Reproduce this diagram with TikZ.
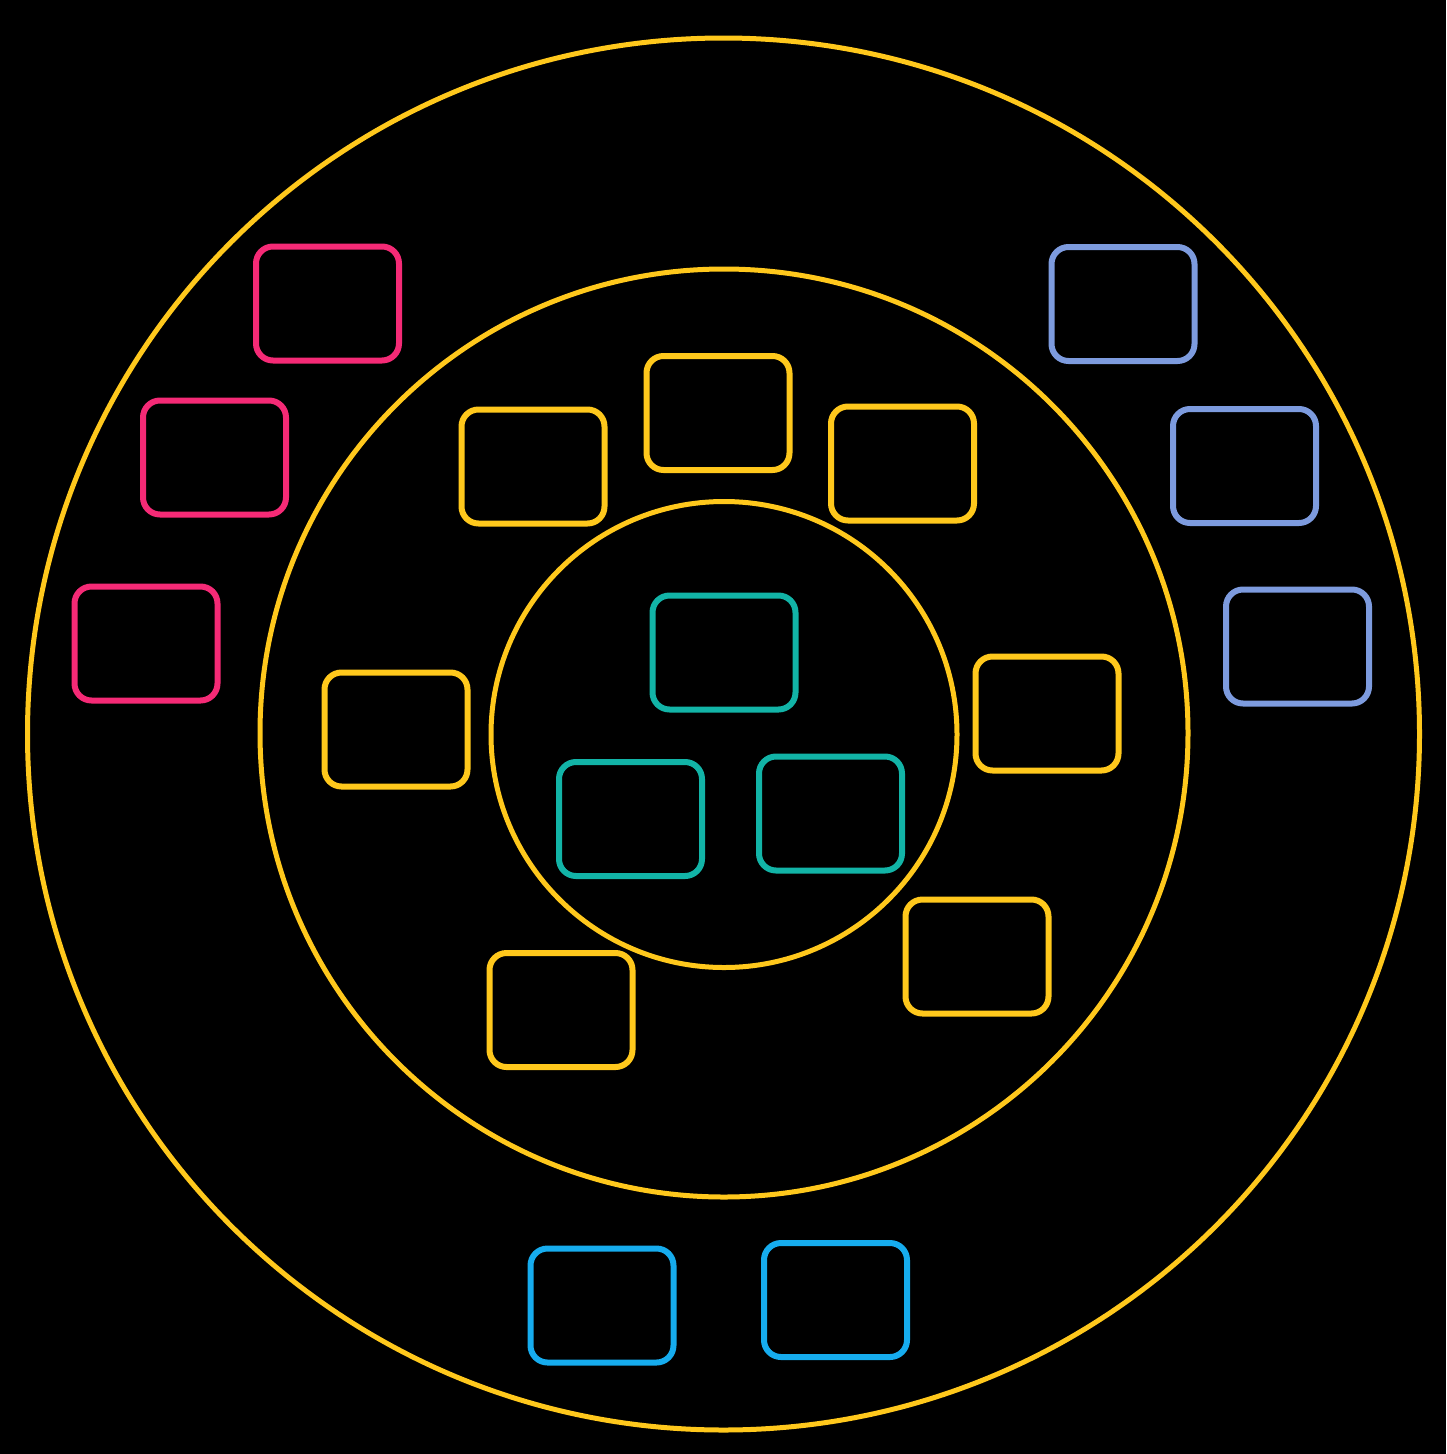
\documentclass[tikz,border=0pt]{standalone}
\definecolor{ringyellow}{HTML}{FFC81C}
\definecolor{boxpink}{HTML}{F52A76}
\definecolor{boxlav}{HTML}{7D9BDE}
\definecolor{boxblue}{HTML}{16ACEE}
\definecolor{boxteal}{HTML}{12B4A7}
\tikzset{
  ring/.style={draw=ringyellow, line width=5pt},
  card/.style={rectangle, rounded corners=17pt, line width=6pt, minimum width=143pt, minimum height=114pt, inner sep=0pt},
  pinkcard/.style={card, draw=boxpink},
  lavcard/.style={card, draw=boxlav},
  bluecard/.style={card, draw=boxblue},
  tealcard/.style={card, draw=boxteal},
  yelcard/.style={card, draw=ringyellow},
}
\begin{document}
\begin{tikzpicture}[x=1pt,y=-1pt]
\fill[black] (0,0) rectangle (1446,1454);
\useasboundingbox (0,0) rectangle (1446,1454);
% rings
\node[ring, circle, minimum size=1392pt, inner sep=0pt] (outer) at (723.5,734) {};
\node[ring, circle, minimum size=928pt, inner sep=0pt] (middle) at (724,733) {};
\node[ring, circle, minimum size=466pt, inner sep=0pt] (inner) at (724,734.5) {};
% pink
\node[pinkcard] (p1) at (327.5,303.5) {};
\node[pinkcard] (p2) at (214.5,457.5) {};
\node[pinkcard] (p3) at (146,643.5) {};
% lavender
\node[lavcard] (l1) at (1123,304) {};
\node[lavcard] (l2) at (1244.5,466) {};
\node[lavcard] (l3) at (1297.5,646.5) {};
% blue
\node[bluecard] (b1) at (602,1305.5) {};
\node[bluecard] (b2) at (835.5,1300) {};
% yellow
\node[yelcard] (y1) at (533,466.5) {};
\node[yelcard] (y2) at (718,413) {};
\node[yelcard] (y3) at (902.5,463.5) {};
\node[yelcard] (y4) at (396,729.5) {};
\node[yelcard] (y5) at (1047,713.5) {};
\node[yelcard] (y6) at (977,956.5) {};
\node[yelcard] (y7) at (561,1010) {};
% teal
\node[tealcard] (t1) at (724,652.5) {};
\node[tealcard] (t2) at (630.5,819) {};
\node[tealcard] (t3) at (830.5,813.5) {};
\end{tikzpicture}
\end{document}
